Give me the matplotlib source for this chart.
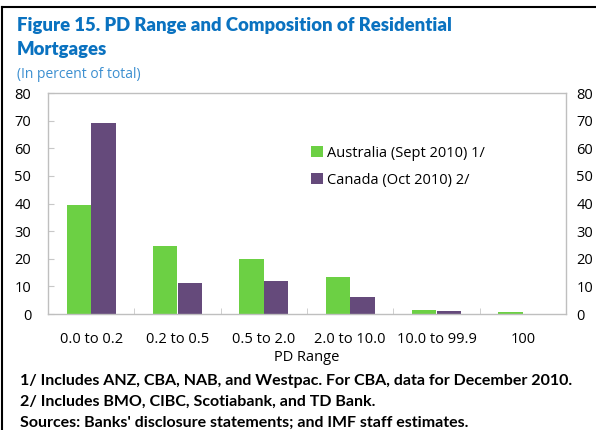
import matplotlib.pyplot as plt
import numpy as np
from matplotlib.lines import Line2D

categories = ["0.0 to 0.2", "0.2 to 0.5", "0.5 to 2.0", "2.0 to 10.0", "10.0 to 99.9", "100"]
australia = [39.5, 24.7, 19.9, 13.4, 1.3, 0.6]
canada = [69.1, 11.3, 11.9, 6.0, 1.1, 0.0]
series_names = ["Australia (Sept 2010) 1/", "Canada (Oct 2010) 2/"]
yticks = [0, 10, 20, 30, 40, 50, 60, 70, 80]

plt.rcParams['font.family'] = ['Open Sans', 'DejaVu Sans']

W, H = 596, 430
fig = plt.figure(figsize=(W / 100, H / 100), dpi=100)

def fx(px):
    return px / W

def fy(py):
    return 1 - py / H

ax_left, ax_right, ax_top, ax_bottom = 48, 566, 93, 314
ax = fig.add_axes([fx(ax_left), fy(ax_bottom), fx(ax_right - ax_left), (ax_bottom - ax_top) / H])

x = np.arange(len(categories))
bw = 0.284
green = "#6CD044"
purple = "#654A7B"
b1 = ax.bar(x - bw / 2, australia, bw, color=green, label=series_names[0], edgecolor="none")
b2 = ax.bar(x + bw / 2, canada, bw, color=purple, label=series_names[1], edgecolor="none")

ax.set_xlim(-0.5, len(categories) - 0.5)
ax.set_ylim(0, 80)
ax.set_yticks(yticks)
ax.set_yticklabels([str(v) for v in yticks], fontsize=10.5)
ax.tick_params(axis='y', direction='in', length=4, color="#c8c8c8", pad=12, labelleft=True, labelright=False)
ax.set_xticks(np.arange(len(categories) + 1) - 0.5, minor=True)
ax.set_xticks(x)
ax.set_xticklabels(categories, fontsize=10.5)
ax.tick_params(axis='x', which='major', length=0, pad=13)
ax.tick_params(axis='x', which='minor', direction='in', length=4, color="#c8c8c8")

for s in ax.spines.values():
    s.set_color("#bfbfbf")
    s.set_linewidth(1.0)

ax2 = ax.twinx()
ax2.set_ylim(0, 80)
ax2.set_yticks(yticks)
ax2.set_yticklabels([str(v) for v in yticks], fontsize=10.5)
ax2.tick_params(axis='y', length=0, pad=7.5)
for s in ax2.spines.values():
    s.set_visible(False)

ax.set_xlabel("PD Range", fontsize=10.5, labelpad=2)

leg = ax.legend(handles=[b1, b2], loc='upper left', bbox_to_anchor=((305 - ax_left) / (ax_right - ax_left), 1 - (140 - ax_top) / (ax_bottom - ax_top)),
                frameon=False, fontsize=10.5, handlelength=0.8, handleheight=0.8, handletextpad=0.3, labelspacing=0.8, borderaxespad=0)

title_color = "#0A72C0"
fig.text(fx(17), fy(26), "Figure 15. PD Range and Composition of Residential", fontsize=13.3, fontweight='heavy', color=title_color, va='center', ha='left', family=['Lato', 'DejaVu Sans'])
fig.text(fx(17), fy(50), "Mortgages", fontsize=13.3, fontweight='heavy', color=title_color, va='center', ha='left', family=['Lato', 'DejaVu Sans'])
fig.text(fx(17), fy(74), "(In percent of total)", fontsize=10, color="#3C8FD0", va='center', ha='left')

notes = ["1/ Includes ANZ, CBA, NAB, and Westpac. For CBA, data for December 2010.",
         "2/ Includes BMO, CIBC, Scotiabank, and TD Bank.",
         "Sources: Banks' disclosure statements; and IMF staff estimates."]
for i, t in enumerate(notes):
    fig.text(fx(20), fy(381 + 21 * i), t, fontsize=11.5, fontweight='bold', color="black", va='center', ha='left', family=['Lato', 'DejaVu Sans'])

fig.add_artist(Line2D([fx(2), fx(2)], [fy(7), 0], transform=fig.transFigure, color="black", lw=1.5))
fig.add_artist(Line2D([fx(2), 1], [fy(7), fy(7)], transform=fig.transFigure, color="black", lw=1.5))

fig.savefig("out.png", dpi=100)
